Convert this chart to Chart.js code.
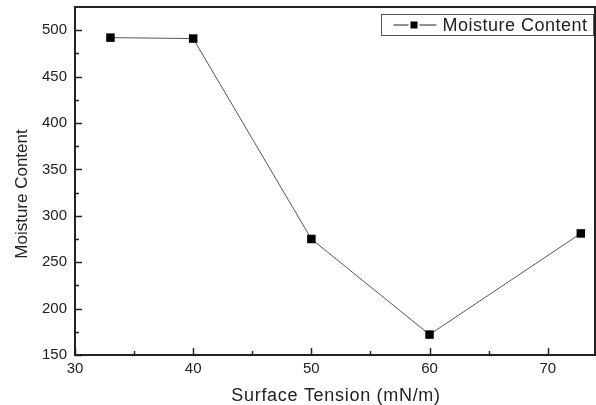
<!DOCTYPE html>
<html>
<head>
<meta charset="utf-8">
<script src="https://cdn.jsdelivr.net/npm/chart.js@4"></script>
<style>
  html, body { margin: 0; padding: 0; background: #fff; }
  #wrap { width: 596px; height: 405px; }
</style>
</head>
<body>
<div id="wrap"><canvas id="c" width="596" height="405"></canvas></div>
<script>
const tension = [33, 40, 50, 60, 72.8];
const moisture = [492, 491, 275, 172, 281];
const xTicks = [30, 40, 50, 60, 70];
const yTicks = [150, 200, 250, 300, 350, 400, 450, 500];
const seriesName = 'Moisture Content';
const xTitle = 'Surface Tension (mN/m)';
const yTitle = 'Moisture Content';

const FONT = 'Arial, "Liberation Sans", sans-serif';
const AXIS = '#222';

// inward major/minor ticks, closed frame, axis titles, legend box
const frame = {
  id: 'frame',
  afterDraw(chart) {
    const {ctx, chartArea: a, scales: {x, y}} = chart;
    ctx.save();
    ctx.strokeStyle = AXIS;
    ctx.lineWidth = 2;
    ctx.strokeRect(a.left, a.top, a.right - a.left, a.bottom - a.top);
    ctx.lineWidth = 1.5;
    ctx.beginPath();
    xTicks.forEach(v => {
      const px = Math.round(x.getPixelForValue(v)) + 0.5;
      ctx.moveTo(px, a.bottom); ctx.lineTo(px, a.bottom - 7);
      const m = x.getPixelForValue(v + 5);
      if (m < a.right - 2) { ctx.moveTo(Math.round(m) + 0.5, a.bottom); ctx.lineTo(Math.round(m) + 0.5, a.bottom - 4); }
    });
    yTicks.forEach(v => {
      const py = Math.round(y.getPixelForValue(v)) + 0.5;
      ctx.moveTo(a.left, py); ctx.lineTo(a.left + 7, py);
      const m = y.getPixelForValue(v + 25);
      if (m > a.top + 2) { ctx.moveTo(a.left, Math.round(m) + 0.5); ctx.lineTo(a.left + 4, Math.round(m) + 0.5); }
    });
    ctx.stroke();

    // axis titles
    ctx.fillStyle = AXIS;
    ctx.textAlign = 'center';
    ctx.textBaseline = 'middle';
    ctx.font = '18px ' + FONT;
    ctx.letterSpacing = '0.7px';
    ctx.fillText(xTitle, 336, 396);
    ctx.letterSpacing = '0px';
    ctx.font = '17px ' + FONT;
    ctx.save();
    ctx.translate(22, 194);
    ctx.rotate(-Math.PI / 2);
    ctx.fillText(yTitle, 0, 0);
    ctx.restore();

    // legend box
    const bx = 381.5, by = 14.5, bw = 212, bh = 21;
    ctx.lineWidth = 1;
    ctx.strokeStyle = '#555';
    ctx.fillStyle = '#fff';
    ctx.fillRect(bx, by, bw, bh);
    ctx.strokeRect(bx, by, bw, bh);
    const cy = by + bh / 2;
    ctx.strokeStyle = '#222';
    ctx.beginPath();
    ctx.moveTo(bx + 12, cy); ctx.lineTo(bx + 27, cy);
    ctx.moveTo(bx + 38, cy); ctx.lineTo(bx + 55, cy);
    ctx.stroke();
    ctx.fillStyle = '#000';
    ctx.fillRect(bx + 29, cy - 3.5, 7, 7);
    ctx.fillStyle = '#222';
    ctx.font = '18px ' + FONT;
    ctx.letterSpacing = '0.5px';
    ctx.textAlign = 'left';
    ctx.fillText(seriesName, bx + 61, cy + 1);
    ctx.restore();
  }
};

new Chart(document.getElementById('c'), {
  type: 'scatter',
  data: {
    datasets: [{
      label: seriesName,
      data: tension.map((t, i) => ({x: t, y: moisture[i]})),
      showLine: true,
      borderColor: '#555',
      borderWidth: 1,
      pointStyle: 'rect',
      pointRadius: 6,
      pointHoverRadius: 6,
      pointBackgroundColor: '#000',
      pointBorderColor: '#000',
      pointBorderWidth: 0
    }]
  },
  options: {
    responsive: false,
    animation: false,
    layout: { autoPadding: false, padding: { top: 7, right: 1, left: 0, bottom: 0 } },
    plugins: { legend: { display: false }, tooltip: { enabled: false } },
    scales: {
      x: {
        type: 'linear', min: 30, max: 74,
        afterBuildTicks: s => { s.ticks = xTicks.map(v => ({value: v})); },
        afterFit: s => { s.height = 50; s.paddingLeft = 0; s.paddingRight = 0; },
        grid: { display: false, drawTicks: false },
        border: { display: false },
        ticks: { color: AXIS, font: { family: FONT, size: 15 }, padding: 5, maxRotation: 0 },
        title: { display: false }
      },
      y: {
        type: 'linear', min: 150, max: 525,
        afterBuildTicks: s => { s.ticks = yTicks.map(v => ({value: v})); },
        afterFit: s => { s.width = 75; s.paddingTop = 0; s.paddingBottom = 0; },
        grid: { display: false, drawTicks: false },
        border: { display: false },
        ticks: { color: AXIS, font: { family: FONT, size: 15 }, padding: 8 },
        title: { display: false }
      }
    }
  },
  plugins: [frame]
});
</script>
</body>
</html>
